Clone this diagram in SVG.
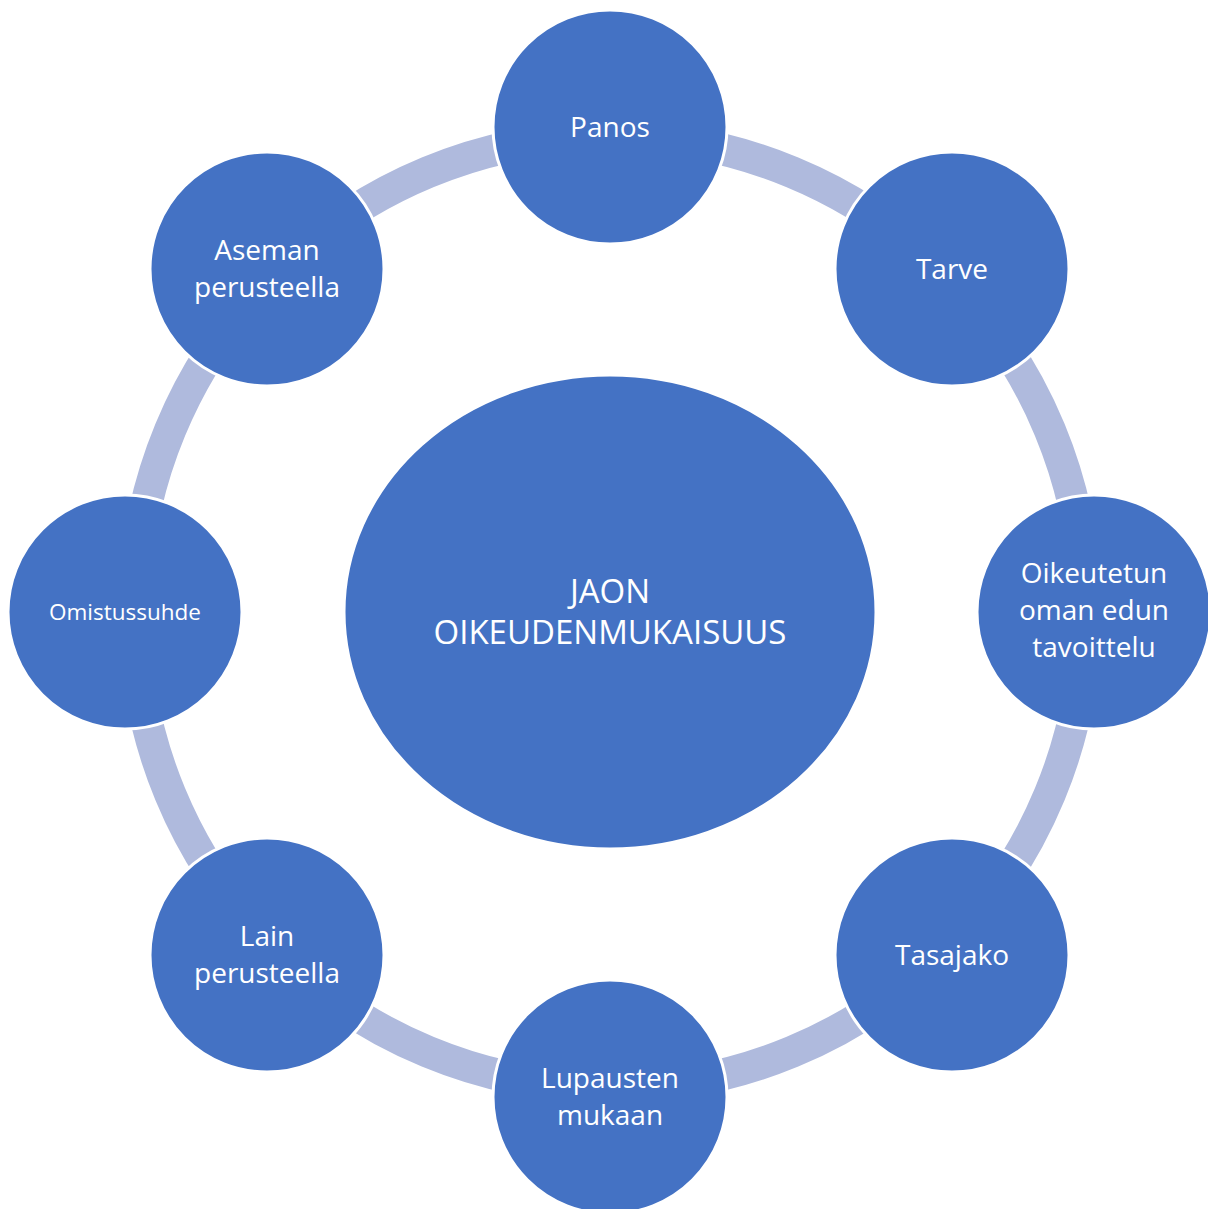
<svg xmlns="http://www.w3.org/2000/svg" width="1208" height="1209" viewBox="0 0 1208 1209">
  <style>
    .ring { fill: none; stroke: #AFBADD; stroke-width: 32; }
    .node { fill: #4472C4; stroke: #FFFFFF; stroke-width: 3; }
    .label { fill: #FFFFFF; font-family: "Open Sans", "Noto Sans", "Liberation Sans", sans-serif; font-size: 28px; text-anchor: middle; }
    .small { font-size: 22.5px; }
    .big { font-size: 33px; }
  </style>
  <rect width="1208" height="1209" fill="#FFFFFF"/>

  <!-- arcs of the cycle, ring centre (610,612), r 476 -->
  <g id="connectors">
    <path class="ring" d="M 610 136 A 476 476 0 0 1 946.6 275.4"/>
    <path class="ring" d="M 946.6 275.4 A 476 476 0 0 1 1086 612"/>
    <path class="ring" d="M 1086 612 A 476 476 0 0 1 946.6 948.6"/>
    <path class="ring" d="M 946.6 948.6 A 476 476 0 0 1 610 1088"/>
    <path class="ring" d="M 610 1088 A 476 476 0 0 1 273.4 948.6"/>
    <path class="ring" d="M 273.4 948.6 A 476 476 0 0 1 134 612"/>
    <path class="ring" d="M 134 612 A 476 476 0 0 1 273.4 275.4"/>
    <path class="ring" d="M 273.4 275.4 A 476 476 0 0 1 610 136"/>
  </g>

  <g id="center">
    <ellipse class="node" cx="610" cy="612" rx="266" ry="237"/>
    <text class="label big" x="610" y="603">JAON</text>
    <text class="label big" x="610" y="644">OIKEUDENMUKAISUUS</text>
  </g>

  <g id="panos">
    <circle class="node" cx="610" cy="127" r="117"/>
    <text class="label" x="610" y="137">Panos</text>
  </g>

  <g id="tarve">
    <circle class="node" cx="952" cy="269" r="117"/>
    <text class="label" x="952" y="279">Tarve</text>
  </g>

  <g id="oikeutetun">
    <circle class="node" cx="1094" cy="612" r="117"/>
    <text class="label" x="1094" y="583">Oikeutetun</text>
    <text class="label" x="1094" y="620">oman edun</text>
    <text class="label" x="1094" y="657">tavoittelu</text>
  </g>

  <g id="tasajako">
    <circle class="node" cx="952" cy="955" r="117"/>
    <text class="label" x="952" y="965">Tasajako</text>
  </g>

  <g id="lupausten">
    <circle class="node" cx="610" cy="1097" r="117"/>
    <text class="label" x="610" y="1088">Lupausten</text>
    <text class="label" x="610" y="1125">mukaan</text>
  </g>

  <g id="lain">
    <circle class="node" cx="267" cy="955" r="117"/>
    <text class="label" x="267" y="946">Lain</text>
    <text class="label" x="267" y="983">perusteella</text>
  </g>

  <g id="omistussuhde">
    <circle class="node" cx="125" cy="612" r="117"/>
    <text class="label small" x="125" y="620">Omistussuhde</text>
  </g>

  <g id="aseman">
    <circle class="node" cx="267" cy="269" r="117"/>
    <text class="label" x="267" y="260">Aseman</text>
    <text class="label" x="267" y="297">perusteella</text>
  </g>
</svg>
